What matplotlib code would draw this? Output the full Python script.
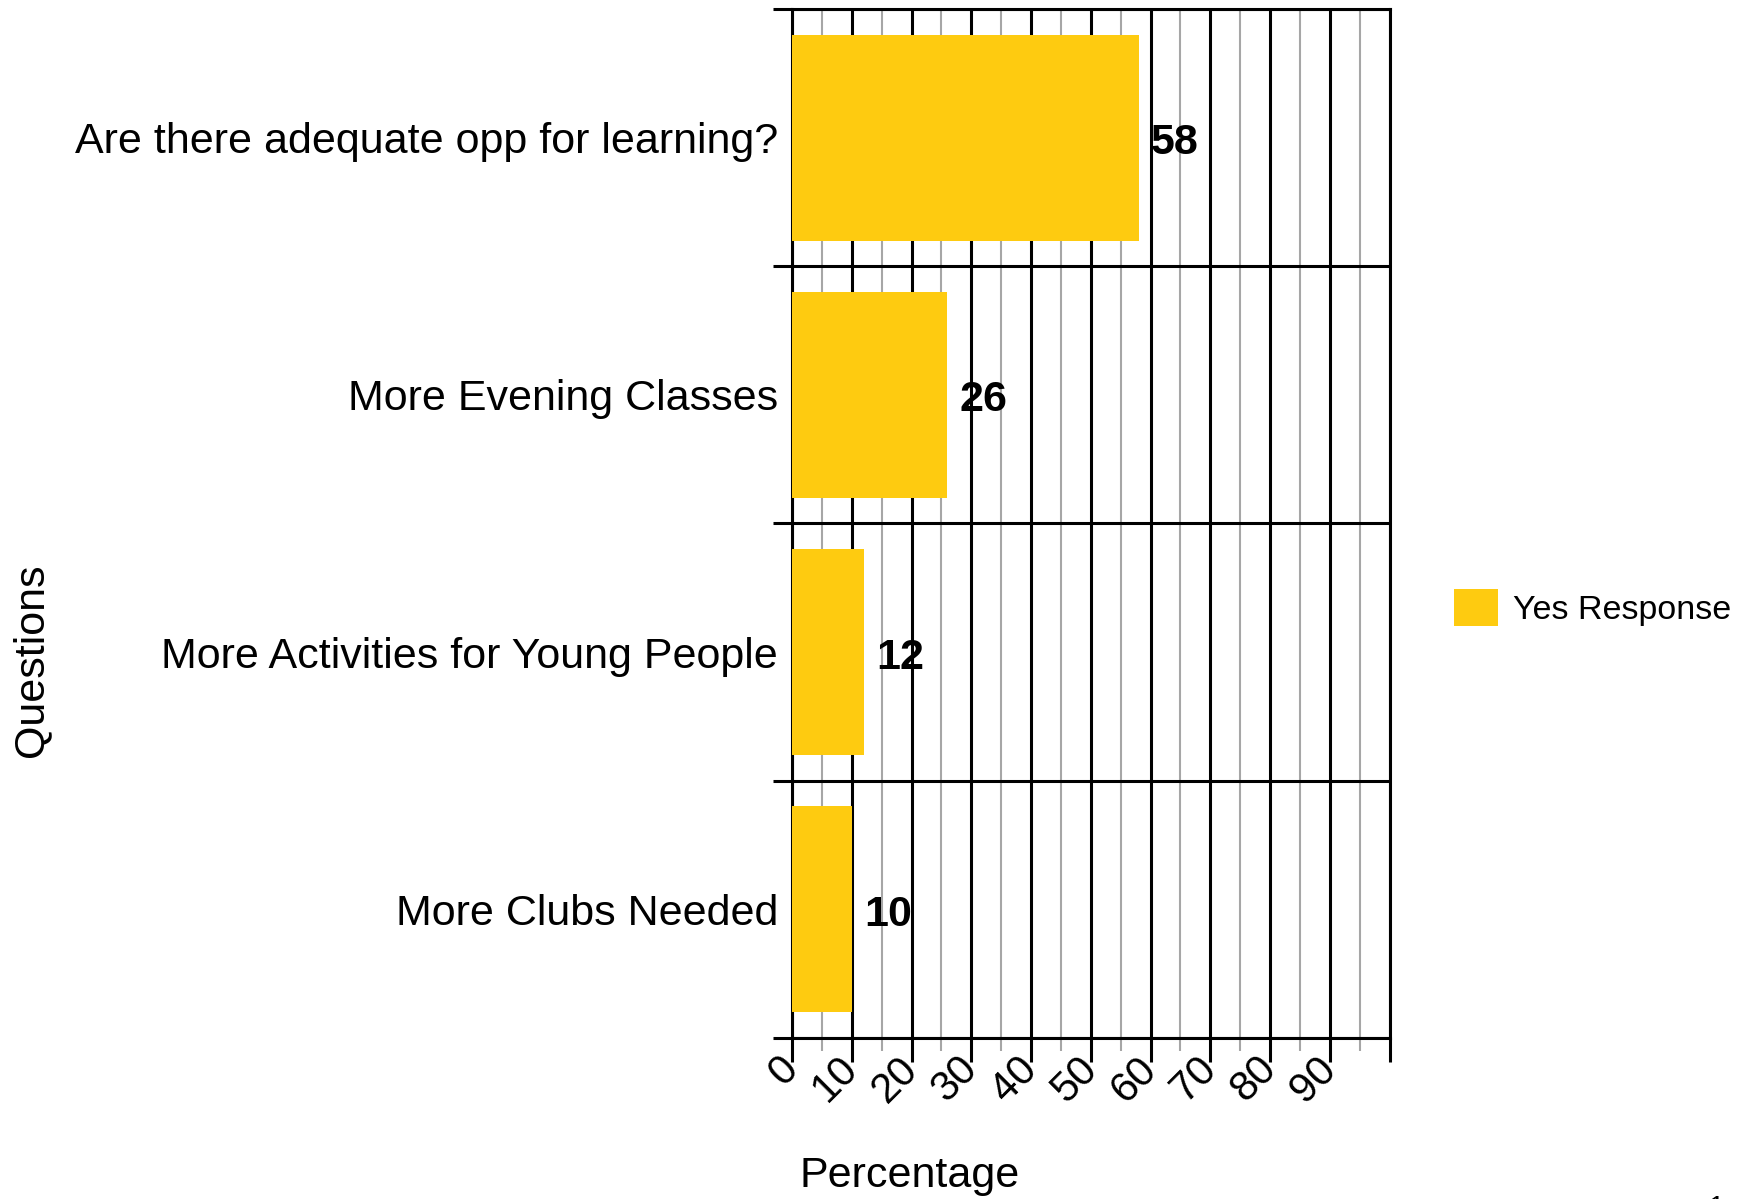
import numpy as np
import matplotlib
matplotlib.use("Agg")
import matplotlib.pyplot as plt
from matplotlib.patches import Patch

plt.rcParams['font.family'] = ['Liberation Sans', 'DejaVu Sans']

# data
questions = ["Are there adequate opp for learning?", "More Evening Classes",
             "More Activities for Young People", "More Clubs Needed"]
yes_pct = [58, 26, 12, 10]
x_ticks = [0, 10, 20, 30, 40, 50, 60, 70, 80, 90, 100]
x_labels = ["0", "10", "20", "30", "40", "50", "60", "70", "80", "90", ""]
bar_color = "#FECB10"

fig = plt.figure(figsize=(17.37, 11.99), dpi=100)
ax = fig.add_axes([0.456, 0.1343, 0.344, 0.8582])

ypos = np.arange(len(questions))
bars = ax.barh(ypos, yes_pct, height=0.8, color=bar_color, zorder=3)

for b, v in zip(bars, yes_pct):
    ax.annotate(str(v), (b.get_width(), b.get_y() + b.get_height() / 2),
                xytext=(9, -4), textcoords="offset points",
                ha="left", va="center", fontsize=31, fontweight="bold", zorder=4)

ax.set_xlim(0, 100)
ax.set_ylim(len(questions) - 0.5, -0.5)

# x: black major lines every 10, grey minor every 5
ax.set_xticks(x_ticks)
ax.set_xticklabels(x_labels, rotation=45, ha="right", va="center",
                   rotation_mode="anchor", fontsize=30)
ax.set_xticks(np.arange(5, 100, 10), minor=True)
ax.tick_params(axis="x", which="major", length=17, width=2.2, color="black", pad=1)
ax.tick_params(axis="x", which="minor", length=9, width=1.5, color="#a6a6a6")
ax.grid(axis="x", which="major", color="black", linewidth=2.2, zorder=1)
ax.grid(axis="x", which="minor", color="#a6a6a6", linewidth=1.5, zorder=1)

# y: lines at category boundaries, labels at centres
ax.set_yticks(np.arange(-0.5, len(questions), 1.0))
ax.set_yticklabels([])
ax.set_yticks(ypos, minor=True)
ax.set_yticklabels(questions, minor=True, fontsize=31)
ax.tick_params(axis="y", which="major", length=14, width=2.2, color="black")
ax.tick_params(axis="y", which="minor", length=0, pad=10)
ax.grid(axis="y", which="major", color="black", linewidth=2.2, zorder=1)

for s in ax.spines.values():
    s.set_linewidth(2.2)
    s.set_color("black")

fig.text(0.018, 0.449, "Questions", rotation=90, ha="center", va="center", fontsize=31)
fig.text(0.4605, 0.019, "Percentage", ha="left", va="center", fontsize=31)

fig.legend(handles=[Patch(facecolor=bar_color, label="Yes Response")],
           loc="center left", bbox_to_anchor=(0.837, 0.493), frameon=False,
           fontsize=24.5, handlelength=1.3, handleheight=1.3, handletextpad=0.45,
           borderpad=0, borderaxespad=0)

# cut-off page mark at bottom right corner
fig.text(0.9885, 0.0033, "1", ha="center", va="top", fontsize=20)

fig.savefig("out.png", dpi=100)
